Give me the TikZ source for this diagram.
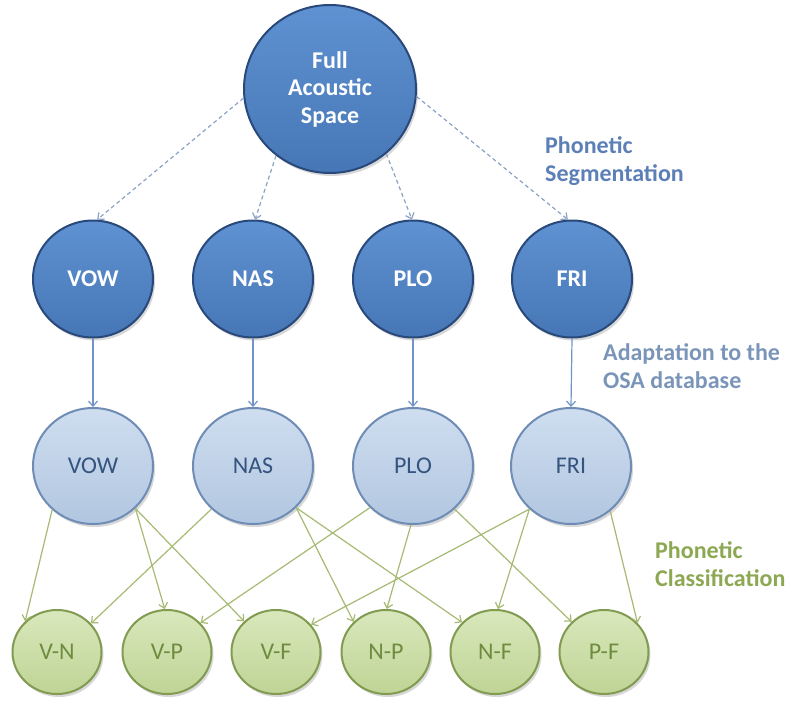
\documentclass[tikz,border=0pt]{standalone}
\usepackage{fontspec}
\setmainfont{Carlito}
\usetikzlibrary{arrows.meta,shapes.geometric,shadows}

\definecolor{darkfill}{HTML}{4676B6}
\definecolor{darktop}{HTML}{5F92D2}
\definecolor{darkrim}{HTML}{28497A}
\definecolor{lightfill}{HTML}{B1C6E0}
\definecolor{lighttop}{HTML}{CFDEF0}
\definecolor{lightrim}{HTML}{6F8DB4}
\definecolor{lighttext}{HTML}{34537E}
\definecolor{greenfill}{HTML}{BFD495}
\definecolor{greentop}{HTML}{D9E8BC}
\definecolor{greenrim}{HTML}{819B50}
\definecolor{greentext}{HTML}{6E8C40}
\definecolor{dashcol}{HTML}{8CA3C6}
\definecolor{bluearrow}{HTML}{6F94C9}
\definecolor{greenline}{HTML}{A7BA73}
\definecolor{seglabel}{HTML}{5B7FB6}
\definecolor{adaptlabel}{HTML}{7A95B9}
\definecolor{classlabel}{HTML}{8CA852}

\begin{document}
\begin{tikzpicture}[x=1pt,y=-1pt,
  ball/.style={ellipse, inner sep=0pt, line width=2pt,
    drop shadow={shadow xshift=2pt, shadow yshift=-3pt, opacity=0.3}},
  toplevel/.style={ball, minimum width=172pt, minimum height=168pt,
    draw=darkrim, top color=darktop, bottom color=darkfill,
    text=white, align=center, font=\bfseries\fontsize{24}{27.5}\selectfont},
  group/.style={ball, minimum width=120pt, minimum height=117pt,
    draw=darkrim, top color=darktop, bottom color=darkfill,
    text=white, font=\bfseries\fontsize{24}{28}\selectfont},
  adapted/.style={ball, minimum width=120pt, minimum height=116pt,
    draw=lightrim, top color=lighttop, bottom color=lightfill,
    text=lighttext, font=\fontsize{24}{28}\selectfont},
  pair/.style={ball, minimum width=89pt, minimum height=84pt,
    draw=greenrim, top color=greentop, bottom color=greenfill,
    text=greentext, font=\fontsize{24}{28}\selectfont},
  steplabel/.style={anchor=west, inner sep=0pt, align=left,
    font=\bfseries\fontsize{24}{28}\selectfont},
  segarrow/.style={draw=dashcol, line width=1.2pt, dash pattern=on 4pt off 3pt,
    -{Straight Barb[length=5pt,width=9pt]}},
  adaptarrow/.style={draw=bluearrow, line width=1.2pt,
    -{Straight Barb[length=5pt,width=9pt]}},
  classarrow/.style={draw=greenline, line width=1.2pt,
    -{Straight Barb[length=5pt,width=9pt]}}
]
\fill[white] (0,0) rectangle (794,704);
\useasboundingbox (0,0) rectangle (794,704);

% root
\node[toplevel] (full) at (330,89) {Full\\Acoustic\\Space};

% broad phonetic classes
\node[group] (vow) at (93,279) {VOW};
\node[group] (nas) at (253,279) {NAS};
\node[group] (plo) at (413,279) {PLO};
\node[group] (fri) at (572,279) {FRI};

% adapted classes
\node[adapted] (vowa) at (93,466) {VOW};
\node[adapted] (nasa) at (253,466) {NAS};
\node[adapted] (ploa) at (413,466) {PLO};
\node[adapted] (fria) at (571,466) {FRI};

% pairwise classifiers
\node[pair] (vn) at (57,652) {V-N};
\node[pair] (vp) at (167,652) {V-P};
\node[pair] (vf) at (276,652) {V-F};
\node[pair] (np) at (386,652) {N-P};
\node[pair] (nf) at (495,652) {N-F};
\node[pair] (pf) at (604,652) {P-F};

% step labels
\node[steplabel, text=seglabel] (seg) at (545,161) {Phonetic\\Segmentation};
\node[steplabel, text=adaptlabel] (adapt) at (603,366) {Adaptation to the\\OSA database};
\node[steplabel, text=classlabel] (cls) at (655,564) {Phonetic\\Classification};

% segmentation
\draw[segarrow] (full.186) -- (vow.86);
\draw[segarrow] (full.231) -- (nas.88);
\draw[segarrow] (full.311) -- (plo.91);
\draw[segarrow] (full.355) -- (fri.94);

% adaptation
\draw[adaptarrow] (vow.south) -- (vowa.north);
\draw[adaptarrow] (nas.south) -- (nasa.north);
\draw[adaptarrow] (plo.south) -- (ploa.north);
\draw[adaptarrow] (fri.south) -- (fria.north);

% classification
\draw[classarrow] (vowa.227) -- (vn.136);
\draw[classarrow] (nasa.226) -- (vn.40);
\draw[classarrow] (vowa.315) -- (vp.93);
\draw[classarrow] (ploa.224) -- (vp.41);
\draw[classarrow] (vowa.315) -- (vf.136);
\draw[classarrow] (fria.226) -- (vf.38);
\draw[classarrow] (nasa.316) -- (np.137);
\draw[classarrow] (ploa.268) -- (np.89);
\draw[classarrow] (nasa.316) -- (nf.138);
\draw[classarrow] (fria.226) -- (nf.86);
\draw[classarrow] (ploa.314) -- (pf.137);
\draw[classarrow] (fria.311) -- (pf.41);
\end{tikzpicture}
\end{document}
